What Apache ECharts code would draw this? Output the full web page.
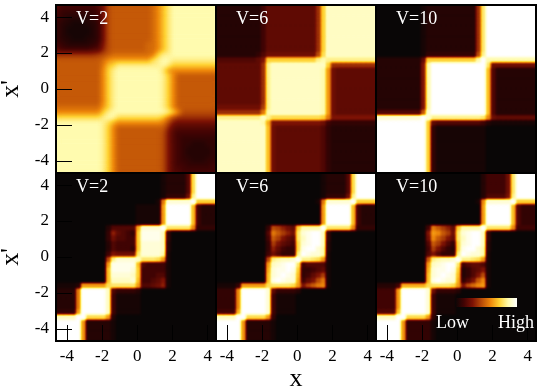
<!DOCTYPE html>
<html>
<head>
<meta charset="utf-8">
<style>
html,body{margin:0;padding:0;background:#fff}
#main{position:absolute;left:0;top:0;width:541px;height:390px}
.cells{position:absolute;width:160px;height:168px}
</style>
<script src="https://cdn.jsdelivr.net/npm/echarts@6/dist/echarts.min.js"></script>
</head>
<body>
<!-- soft edges: blur the grey levels, then map them to the colour scale -->
<svg width="0" height="0" style="position:absolute">
  <filter id="hot" x="0" y="0" width="100%" height="100%" color-interpolation-filters="sRGB">
    <feGaussianBlur stdDeviation="1"/>
    <feComponentTransfer>
      <feFuncR class="fn" type="table"/>
      <feFuncG class="fn" type="table"/>
      <feFuncB class="fn" type="table"/>
      <feFuncA type="linear" slope="0" intercept="1"/>
    </feComponentTransfer>
  </filter>
  <filter id="hotSoft" x="0" y="0" width="100%" height="100%" color-interpolation-filters="sRGB">
    <feGaussianBlur stdDeviation="2.6"/>
    <feComponentTransfer>
      <feFuncR class="fn" type="table"/>
      <feFuncG class="fn" type="table"/>
      <feFuncB class="fn" type="table"/>
      <feFuncA type="linear" slope="0" intercept="1"/>
    </feComponentTransfer>
  </filter>
</svg>
<div id="main"></div>
<script>
// each panel: 32 rows top to bottom, one base-36 level per cell, 0 = low, s (28) = high
const topV2 = [
  '5444444457cddddddddegjmooooooooo',
  '4333333347cddddddddegjmooooooooo',
  '4322222347cddddddddegjmooooooooo',
  '3221112237cddddddddegjmooooooooo',
  '3211111237cddddddddegjmooooooooo',
  '3211111237cddddddddegjmooooooooo',
  '3221112237cddddddddegjmooooooooo',
  '4322222348cdddddddeegjmooooooooo',
  '5444444559cdddddddeegjmooooooooo',
  'aaaaaaaabcdeeeeeeeefknnooooooooo',
  'dddddddddeghhhhhhhhlnoonnnnnnnnn',
  'dddddddddfjknnnnnnnnnonkkkkkkkkk',
  'dddddddddgknooooooooomhggggggggg',
  'dddddddddgknooooooooonkgdddddddd',
  'dddddddddgknooooooooonkgdddddddd',
  'dddddddddgknooooooooonkgdddddddd',
  'dddddddddgknooooooooonkgdddddddd',
  'dddddddddgknooooooooonkgdddddddd',
  'dddddddddgknooooooooonkgdddddddd',
  'eeeeeeeeehknooooooooonkgdddddddd',
  'gggggggggknooooooooooonkgccccccc',
  'lllllllllnoollllllllljfcaaaaaaaa',
  'ooooooooonligggggggggfc877777777',
  'ooooooooonkgdddddddddd9655555555',
  'ooooooooonkgdddddddddc8544444444',
  'ooooooooonkgdddddddddc8543333333',
  'ooooooooonkgdddddddddc8543322233',
  'ooooooooonkgdddddddddc8543222223',
  'ooooooooonkgdddddddddc8543222223',
  'ooooooooonkgdddddddddc8543322233',
  'ooooooooonkgdddddddddc8544333334',
  'ooooooooonkgdddddddddc8554444444'
]
const topV6 = [
  '22222222246666666666akpppppppppp',
  '22222222246666666666akpppppppppp',
  '22222222246666666666akpppppppppp',
  '22222222246666666666akpppppppppp',
  '22222222246666666666akpppppppppp',
  '22222222246666666666akpppppppppp',
  '22222222246666666666akpppppppppp',
  '22222222246666666666akpppppppppp',
  '22222222246666666666akpppppppppp',
  '22222222357777777777clpppppppppp',
  '5555555568kkkkkkkkkknonnnnnnnnnn',
  '666666666anpppppppppppkaaaaaaaaa',
  '666666666anppppppppppoh766666666',
  '666666666anppppppppppoh766666666',
  '666666666anppppppppppoh766666666',
  '666666666anppppppppppoh766666666',
  '666666666anppppppppppoh766666666',
  '666666666anppppppppppoh766666666',
  '666666666anppppppppppoh766666666',
  '777777777bnppppppppppoh766666666',
  'aaaaaaaaafoppppppppppoh766666666',
  'nnnnnnnnnpnllllllllllkf888888888',
  'pppppppppoi888888888874333333333',
  'ppppppppppj766666666653222222222',
  'ppppppppppj766666666653222222222',
  'ppppppppppj766666666653222222222',
  'ppppppppppj766666666653222222222',
  'ppppppppppj766666666653222222222',
  'ppppppppppj766666666653222222222',
  'ppppppppppj766666666653222222222',
  'ppppppppppj766666666653222222222',
  'ppppppppppj766666666653222222222'
]
const topV10 = [
  '00000000012222222222amssssssssss',
  '00000000012222222222amssssssssss',
  '00000000012222222222amssssssssss',
  '00000000012222222222amssssssssss',
  '00000000012222222222amssssssssss',
  '00000000012222222222amssssssssss',
  '00000000012222222222amssssssssss',
  '00000000012222222222amssssssssss',
  '00000000012222222222amssssssssss',
  '00000000013333333333cnssssssssss',
  '2222222226kkkkkkkkkkosoooooooooo',
  '2222222228osssssssssssm777777777',
  '2222222228osssssssssssj522222222',
  '2222222228osssssssssssj522222222',
  '2222222228osssssssssssj522222222',
  '2222222228osssssssssssj522222222',
  '2222222228osssssssssssj522222222',
  '2222222228osssssssssssj522222222',
  '2222222228osssssssssssj522222222',
  '2222222228osssssssssssj522222222',
  '555555555dqsssssssssssj522222222',
  'qqqqqqqqqsqnnnnnnnnnnmg766666666',
  'ssssssssssk655555555542111111111',
  'ssssssssssk311111111110000000000',
  'ssssssssssk311111111110000000000',
  'ssssssssssk311111111110000000000',
  'ssssssssssk311111111110000000000',
  'ssssssssssk311111111110000000000',
  'ssssssssssk311111111110000000000',
  'ssssssssssk311111111110000000000',
  'ssssssssssk311111111110000000000',
  'ssssssssssk311111111110000000000'
]
const bottomV2 = [
  '000000000000000000000122225lssss',
  '000000000000000000000122225lssss',
  '000000000000000000000122225lssss',
  '000000000000000000000122225lssss',
  '000000000000000000000133337nssss',
  '000000000000000000001fqqqqqskkkk',
  '000000000000000011111hsssssj4222',
  '000000000000000011111hsssssj4222',
  '000000000000000011111hsssssj4222',
  '000000000000000011111hsssssj4222',
  '0000000000255555iqqqqsmmmmmg3333',
  '0000000000396543krrrrp3000000000',
  '0000000000375544krrrrp3000000000',
  '0000000000254444kqqqqp2000000000',
  '0000000000254443kqqqqp2000000000',
  '0000000000487777mqqqqo1000000000',
  '0000000000cnqqqqpmmmlh1000000000',
  '0000000000hrrrrrj544441000000000',
  '0000000000jrrrrqk444441000000000',
  '0000000000jqqqqpk444551000000000',
  '0000000000jppppqj445681000000000',
  '11112hhhhhlmmmmmh556791000000000',
  '2222fsssssp533332000000000000000',
  '2222fsssssp411111000000000000000',
  '2222fsssssp411111000000000000000',
  '2222fsssssp411111000000000000000',
  '3333hsssssp411111000000000000000',
  'ppppssllllh200000000000000000000',
  'sssssh22222100000000000000000000',
  'sssssh22222100000000000000000000',
  'sssssh22222100000000000000000000',
  'sssssh22222100000000000000000000'
]
const bottomV6 = [
  '000000000000000000000122225lssss',
  '000000000000000000000122225lssss',
  '000000000000000000000122225lssss',
  '000000000000000000000122225lssss',
  '000000000000000000000133337nssss',
  '000000000000000000001fqqqqqskkkk',
  '000000000000000000000hsssssj4222',
  '000000000000000000000hsssssj4222',
  '000000000000000000000hsssssj4222',
  '000000000000000000000hsssssj4222',
  '00000000003cb976koooosmmmmmg3333',
  '00000000005fdb97mqrssp3000000000',
  '00000000004db865mprssp3000000000',
  '00000000003b8654lqrssp2000000000',
  '0000000000396433lrssqo2000000000',
  '0000000000475333nsrqqo1000000000',
  '0000000000cnoppqsnnmlh1000000000',
  '0000000000hpqrssm455551000000000',
  '0000000000iqrrsrk334561000000000',
  '0000000000jqrsrqj3468b1000000000',
  '0000000000jrsrqqi468cf1000000000',
  '11113hhhhhlmmmmlh8bdfg1000000000',
  '3333gsssssq633332000000000000000',
  '3333gsssssq411110000000000000000',
  '3333gsssssq411110000000000000000',
  '3333gsssssq411110000000000000000',
  '4444isssssq411110000000000000000',
  'ppppssllllh300000000000000000000',
  'sssssh22222100000000000000000000',
  'sssssh22222100000000000000000000',
  'sssssh22222100000000000000000000',
  'sssssh22222100000000000000000000'
]
const bottomV10 = [
  '000000000000000000000244447mssss',
  '000000000000000000000244447mssss',
  '000000000000000000000244447mssss',
  '000000000000000000000244447mssss',
  '000000000000000000000255558nssss',
  '000000000000000000001gqqqqqskkkk',
  '000000000000000000000hsssssj5333',
  '000000000000000000000hsssssj5333',
  '000000000000000000000hsssssj5333',
  '000000000000000000000hsssssj5333',
  '00000000004fdb96koooosmmmmmg4444',
  '00000000008hgdb7mqrssp3000000000',
  '00000000007gdb86mprssp3000000000',
  '00000000005db853lqrssp2000000000',
  '00000000004b8532lrssqo2000000000',
  '0000000000585333nsrqqo1000000000',
  '0000000000dnoppqsnnmlh1000000000',
  '0000000000hpqrssm456651000000000',
  '0000000000iqrrsrk235681000000000',
  '0000000000jqrsrqj2358c1000000000',
  '0000000000jrsrqqi358dg1000000000',
  '22224iiiiilmmmmlh8cegh1000000000',
  '4444hsssssq733332000000000000000',
  '4444hsssssq411110000000000000000',
  '4444hsssssq411110000000000000000',
  '4444hsssssq411110000000000000000',
  '5555jsssssq411110000000000000000',
  'ppppssllllh300000000000000000000',
  'sssssh33333100000000000000000000',
  'sssssh33333100000000000000000000',
  'sssssh33333100000000000000000000',
  'sssssh33333100000000000000000000'
]
const panels = [topV2, topV6, topV10, bottomV2, bottomV6, bottomV10]
const panelNames = ['V=2', 'V=6', 'V=10', 'V=2', 'V=6', 'V=10']
const tickValues = [-4, -2, 0, 2, 4]
const hotColors = ['#0a0606', '#410303', '#7d1204', '#b94b07', '#ee870a', '#ffd232', '#fffcaf', '#ffffff']

const font = '"Liberation Serif", "Times New Roman", serif'
const lefts = [56, 216, 376, 56, 216, 376]
const tops = [5, 5, 5, 173, 173, 173]

// same scale for the cells (through the filter) and for the colour bar
let rgb = hotColors.map(c => echarts.color.parse(c))
document.querySelectorAll('.fn').forEach((fn, i) => {
  fn.setAttribute('tableValues', rgb.map(c => (c[i % 3] / 255).toFixed(3)).join(' '))
})

let main = document.getElementById('main')
panels.forEach((rows, p) => {
  let div = document.createElement('div')
  div.className = 'cells'
  div.style.left = lefts[p] + 'px'
  div.style.top = tops[p] + 'px'
  div.style.filter = p === 0 ? 'url(#hotSoft)' : 'url(#hot)'
  document.body.insertBefore(div, main)
  let n = rows.length
  let idx = rows.map((r, i) => i)
  let data = []
  rows.forEach((r, i) => {
    r.split('').forEach((c, j) => data.push([j, n - 1 - i, parseInt(c, 36)]))
  })
  echarts.init(div).setOption({
    animation: false,
    grid: { left: 0, right: 0, top: 0, bottom: 0 },
    xAxis: { type: 'category', data: idx, show: false },
    yAxis: { type: 'category', data: idx, show: false },
    visualMap: { show: false, min: 0, max: 28, dimension: 2, inRange: { color: ['#000', '#fff'] } },
    series: [{ type: 'heatmap', data: data, progressive: 0, emphasis: { disabled: true } }]
  })
})

// frames, ticks and texts on top of the cells
let grid = [], xAxis = [], yAxis = [], title = []
panels.forEach((rows, p) => {
  let bottomRow = p >= 3
  let leftCol = p % 3 === 0
  grid.push({
    show: true, left: lefts[p], top: tops[p], width: 160, height: 168, outerBoundsMode: 'none',
    borderColor: '#000', borderWidth: 2, backgroundColor: 'transparent'
  })
  xAxis.push({
    type: 'value', gridIndex: p, min: -4.62, max: 4.47, position: 'bottom',
    name: p === 4 ? 'x' : '', nameLocation: 'middle', nameGap: 23,
    nameTextStyle: { fontFamily: font, fontSize: 26, color: '#000' },
    axisLine: { show: false, onZero: false },
    axisTick: { show: bottomRow, inside: true, length: 16, customValues: tickValues, lineStyle: { color: '#000', width: 1 } },
    axisLabel: { show: bottomRow, margin: 7, customValues: tickValues, fontFamily: font, fontSize: 17, color: '#000' },
    splitLine: { show: false }
  })
  yAxis.push({
    type: 'value', gridIndex: p, min: -4.67, max: 4.67, position: 'left',
    name: leftCol ? "x'" : '', nameLocation: 'middle', nameGap: 32, nameRotate: 90,
    nameTextStyle: { fontFamily: font, fontSize: 26, color: '#000' },
    axisLine: { show: false, onZero: false },
    axisTick: { show: leftCol, inside: true, length: 16, customValues: tickValues, lineStyle: { color: '#000', width: 1 } },
    axisLabel: { show: leftCol, margin: 7, customValues: tickValues, fontFamily: font, fontSize: 17, color: '#000' },
    splitLine: { show: false }
  })
  title.push({
    text: panelNames[p], left: lefts[p] + 20, top: tops[p] + 5, padding: 0,
    textStyle: { fontFamily: font, fontSize: 18, fontWeight: 'normal', color: '#fff' }
  })
})

let whiteText = { fontFamily: font, fontSize: 18, fontWeight: 'normal', color: '#fff' }
title.push({ text: 'Low', left: 436, top: 314, padding: 0, textStyle: whiteText })
title.push({ text: 'High', left: 498, top: 314, padding: 0, textStyle: whiteText })

echarts.init(main).setOption({
  animation: false,
  title: title,
  grid: grid,
  xAxis: xAxis,
  yAxis: yAxis,
  graphic: [{
    type: 'rect', left: 455, top: 298, z: 10,
    shape: { width: 62, height: 9 },
    style: {
      fill: new echarts.graphic.LinearGradient(0, 0, 1, 0, hotColors.map((c, i) => ({ offset: i / (hotColors.length - 1), color: c })))
    }
  }],
  series: []
})
</script>
</body>
</html>
